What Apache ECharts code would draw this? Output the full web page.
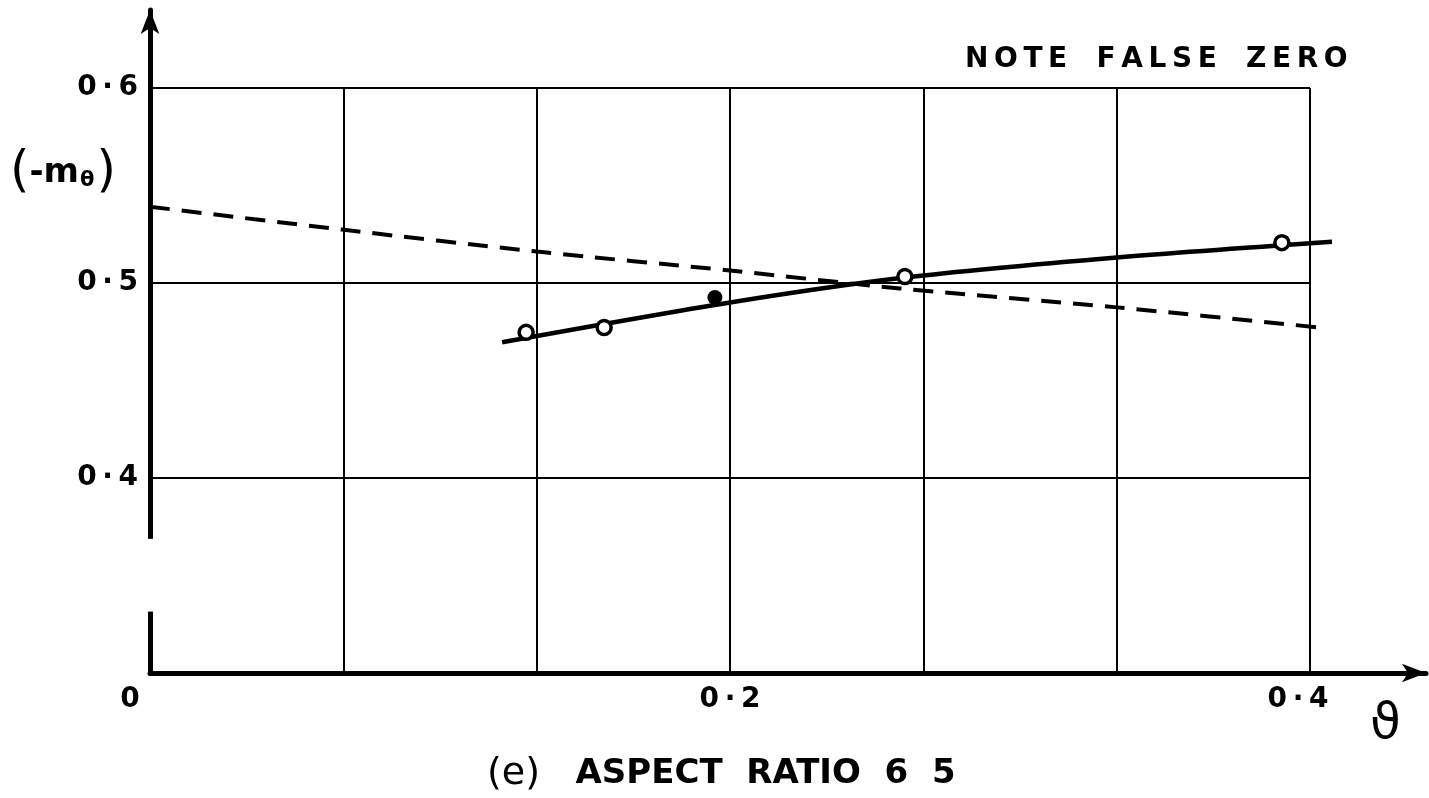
<!DOCTYPE html>
<html>
<head>
<meta charset="utf-8">
<script src="https://cdn.jsdelivr.net/npm/echarts@6/dist/echarts.min.js"></script>
<style>
  html, body { margin: 0; padding: 0; background: #fff; }
  #chart { width: 1429px; height: 798px; }
</style>
</head>
<body>
<div id="chart"></div>
<script>
// ---- data ----
const xTickValues = [0, 0.2, 0.4];
const xTickLabels = ['0', '0·2', '0·4'];
const yTickValues = [0.4, 0.5, 0.6];
const yTickLabels = ['0·4', '0·5', '0·6'];

const openX = [0.1297, 0.1566, 0.2603, 0.3903];
const openY = [0.4747, 0.4772, 0.5033, 0.5207];
const filledX = [0.1948];
const filledY = [0.4926];

const solidX = [0.1214, 0.2, 0.2603, 0.3334, 0.4076];
const solidY = [0.4696, 0.4900, 0.5028, 0.5131, 0.5212];

const dashX = [0, 0.0662, 0.1334, 0.2, 0.2586, 0.3334, 0.403];
const dashY = [0.5391, 0.5274, 0.5161, 0.5064, 0.4972, 0.4875, 0.4772];

const yAxisBreak = [0.3315, 0.3688];

const titleText = 'NOTE FALSE ZERO';
const captionParen = '(e)';
const captionText = 'ASPECT  RATIO  6  5';
// ---------------------------------------

const zip = (xs, ys) => xs.map((x, i) => [x, ys[i]]);
const near = (a, b) => Math.abs(a - b) < 1e-6;
const spaced = s => s.split('').join('\u2009');

const FONT = 'DejaVu Sans';
const chart = echarts.init(document.getElementById('chart'), null, { renderer: 'canvas' });

const xLabelRich = {
  l0: { padding: [0, 40, 0, 0] },
  l1: { padding: [0, 0, 0, 0] },
  l2: { padding: [0, 24, 0, 0] }
};

const option = {
  backgroundColor: '#ffffff',
  animation: false,
  title: [
    { text: spaced(titleText).replace(/\u2009 \u2009/g, '   '), left: 960, top: 41,
      textStyle: { fontFamily: FONT, fontSize: 28, fontWeight: 'bold', color: '#000' } },
    { text: '{p|' + captionParen + '}   ' + captionText, left: 482, top: 750,
      textStyle: { fontFamily: FONT, fontSize: 34, fontWeight: 'bold', color: '#000',
        rich: { p: { fontFamily: FONT, fontSize: 38, fontWeight: 'normal', color: '#000' } } } }
  ],
  grid: [
    { left: 150, right: 3, top: 10, bottom: 125, containLabel: false },
    { left: 150, width: 1160, top: 88, bottom: 125, containLabel: false }
  ],
  xAxis: [
    { type: 'value', gridIndex: 0, min: 0, max: 0.44,
      axisLine: { show: true, lineStyle: { color: '#000', width: 5 }, symbol: ['none', 'arrow'], symbolSize: [14, 24] },
      axisTick: { show: false }, axisLabel: { show: false }, splitLine: { show: false } },
    { type: 'value', gridIndex: 1, min: 0, max: 0.4, interval: 0.4 / 6,
      axisLine: { show: false }, axisTick: { show: false },
      splitLine: { show: true, lineStyle: { color: '#000', width: 2 } },
      axisLabel: { show: true, margin: 13, color: '#000', fontFamily: FONT, fontSize: 28, fontWeight: 'bold',
        rich: xLabelRich,
        formatter: v => {
          const i = xTickValues.findIndex(t => near(t, v));
          return i < 0 ? '' : '{l' + i + '|' + spaced(xTickLabels[i]) + '}';
        } } }
  ],
  yAxis: [
    { type: 'value', gridIndex: 0, min: 0.3, max: 0.64,
      axisLine: { show: true, lineStyle: { color: '#000', width: 5 }, symbol: ['none', 'arrow'], symbolSize: [14, 24] },
      axisTick: { show: false }, axisLabel: { show: false }, splitLine: { show: false } },
    { type: 'value', gridIndex: 1, min: 0.3, max: 0.6, interval: 0.1,
      axisLine: { show: false }, axisTick: { show: false },
      splitLine: { show: true, lineStyle: { color: '#000', width: 2 } },
      axisLabel: { show: true, margin: 12, color: '#000', fontFamily: FONT, fontSize: 28, fontWeight: 'bold',
        formatter: v => {
          const i = yTickValues.findIndex(t => near(t, v));
          return i < 0 ? '' : spaced(yTickLabels[i]);
        } } }
  ],
  series: [
    { type: 'line', xAxisIndex: 0, yAxisIndex: 0, data: zip(dashX, dashY), smooth: 0.3,
      showSymbol: false, lineStyle: { color: '#000', width: 4, type: [20, 12] }, z: 3 },
    { type: 'line', xAxisIndex: 0, yAxisIndex: 0, data: zip(solidX, solidY), smooth: 0.3,
      showSymbol: false, lineStyle: { color: '#000', width: 4.5 }, z: 4 },
    { type: 'scatter', xAxisIndex: 0, yAxisIndex: 0, data: zip(openX, openY), symbol: 'circle', symbolSize: 14,
      itemStyle: { color: '#fff', borderColor: '#000', borderWidth: 3.5, opacity: 1 }, z: 5 },
    { type: 'scatter', xAxisIndex: 0, yAxisIndex: 0, data: zip(filledX, filledY), symbol: 'circle', symbolSize: 15,
      itemStyle: { color: '#000', opacity: 1 }, z: 5 }
  ],
  graphic: [
    { type: 'text', id: 'yname', left: 10, top: 148, z: 10,
      style: { text: '{p|(}{t|-m}{s|θ}{p|)}', fill: '#000',
        rich: {
          p: { fontFamily: FONT, fontSize: 50, fontWeight: 'normal', fill: '#000' },
          t: { fontFamily: FONT, fontSize: 34, fontWeight: 'bold', fill: '#000' },
          s: { fontFamily: FONT, fontSize: 21, fontWeight: 'bold', fill: '#000', padding: [16, 2, 0, 1] }
        } } },
    { type: 'text', id: 'xname', left: 1370, top: 700, z: 10,
      style: { text: 'ϑ', fill: '#000', fontFamily: FONT, fontSize: 50, fontWeight: 'normal' } }
  ]
};

chart.setOption(option);

// break in the y axis line (white gap), positioned through the axis scale
const p1 = chart.convertToPixel({ xAxisIndex: 0, yAxisIndex: 0 }, [0, yAxisBreak[0]]);
const p2 = chart.convertToPixel({ xAxisIndex: 0, yAxisIndex: 0 }, [0, yAxisBreak[1]]);
chart.setOption({
  graphic: [
    { type: 'rect', id: 'ybreak', z: 100,
      shape: { x: p1[0] - 6, y: p2[1], width: 12, height: p1[1] - p2[1] },
      style: { fill: '#fff' } }
  ]
});
</script>
</body>
</html>
